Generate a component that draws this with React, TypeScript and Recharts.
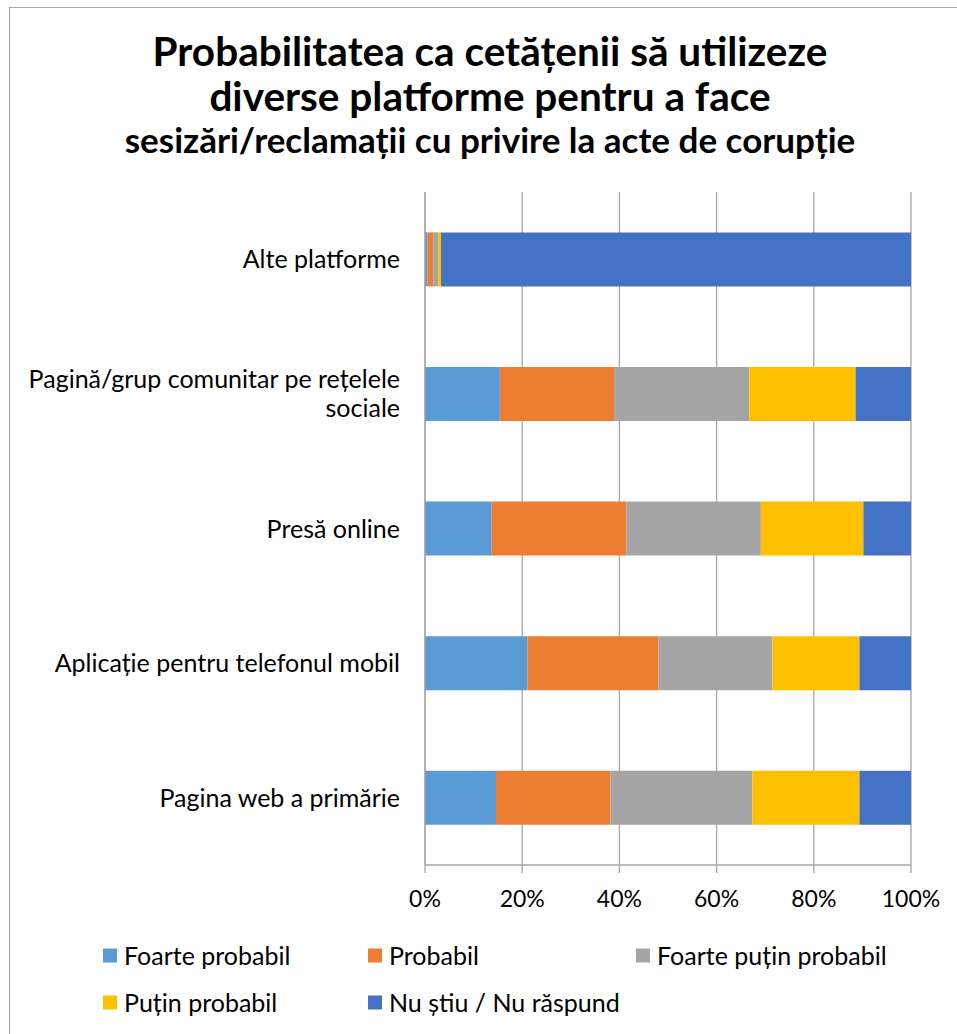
import React from "react";
import { BarChart, Bar, XAxis, YAxis, CartesianGrid } from "recharts";

// categories top to bottom (Excel draws them reversed)
const categories = [
  "Alte platforme",
  "Pagină/grup comunitar pe rețelele sociale",
  "Presă online",
  "Aplicație pentru telefonul mobil",
  "Pagina web a primărie",
];

// how the tick labels wrap in the original
const categoryLines: Record<string, string[]> = {
  "Pagină/grup comunitar pe rețelele sociale": ["Pagină/grup comunitar pe rețelele", "sociale"],
};

const foarteProbabil = [0.5, 15.4, 13.7, 21.1, 14.6];
const probabil = [1.2, 23.5, 27.7, 26.9, 23.5];
const foartePutinProbabil = [1.0, 27.8, 27.7, 23.5, 29.2];
const putinProbabil = [0.6, 21.9, 21.1, 17.9, 22.0];
const nuStiu = [96.7, 11.4, 9.8, 10.6, 10.6];

const seriesNames = [
  "Foarte probabil",
  "Probabil",
  "Foarte puțin probabil",
  "Puțin probabil",
  "Nu știu / Nu răspund",
];
const seriesColors = ["#5B9BD5", "#ED7D31", "#A5A5A5", "#FFC000", "#4472C4"];
const seriesValues = [foarteProbabil, probabil, foartePutinProbabil, putinProbabil, nuStiu];

const xTicks = [0, 0.2, 0.4, 0.6, 0.8, 1];
const boundaryTicks = [0, 1, 2, 3, 4, 5];

const titleLines = [
  "Probabilitatea ca cetățenii să utilizeze",
  "diverse platforme pentru a face",
  "sesizări/reclamații cu privire la acte de corupție",
];

const data = categories.map((name, i) => {
  const row: Record<string, number | string> = { name };
  seriesValues.forEach((vals, s) => {
    row["s" + s] = vals[i];
  });
  return row;
});

const FONT = "Lato, 'Open Sans', sans-serif";
const GRID = "#a6a6a6";

function CategoryTick(props: any) {
  const { x, y, payload } = props;
  const lines = categoryLines[payload.value] || [payload.value];
  const lh = 29;
  const first = y - ((lines.length - 1) * lh) / 2 + 9;
  return (
    <text x={x} y={first} textAnchor="end" fill="#000" fontSize={25} fontFamily={FONT}>
      {lines.map((l: string, i: number) => (
        <tspan key={i} x={x} dy={i === 0 ? 0 : lh}>
          {l}
        </tspan>
      ))}
    </text>
  );
}

// legend layout: two rows, three columns
const legendCols = [103, 368, 636];
const legendRows = [955, 1002];

export default function App() {
  return (
    <div
      style={{
        position: "absolute",
        left: 0,
        top: 0,
        width: 957,
        height: 1034,
        overflow: "hidden",
        background: "#fff",
        fontFamily: FONT,
      }}
    >
      <div
        style={{
          position: "absolute",
          left: 9,
          top: 7,
          width: 1000,
          height: 1100,
          border: "1.5px solid #a6a6a6",
        }}
      />
      {titleLines.map((t, i) => (
        <div
          key={i}
          style={{
            position: "absolute",
            left: 0,
            width: 980,
            textAlign: "center",
            top: [51, 96, 139][i],
            transform: "translateY(-50%)",
            fontSize: i < 2 ? 40.5 : 35,
            fontWeight: 700,
            color: "#000",
            whiteSpace: "nowrap",
            lineHeight: 1,
          }}
        >
          {t}
        </div>
      ))}
      <div style={{ position: "absolute", left: 0, top: 0 }}>
        <BarChart
          layout="vertical"
          width={957}
          height={1034}
          data={data}
          stackOffset="expand"
          barCategoryGap="30%"
          margin={{ top: 192, right: 46, bottom: 139, left: 10 }}
        >
          <CartesianGrid
            yAxisId="cat"
            horizontal={false}
            stroke={GRID}
            strokeWidth={1.3}
          />
          <XAxis
            type="number"
            domain={[0, 1]}
            ticks={xTicks}
            tickFormatter={(v: number) => `${Math.round(v * 100)}%`}
            axisLine={{ stroke: GRID, strokeWidth: 1.3 }}
            tickLine={{ stroke: GRID, strokeWidth: 1.3 }}
            tickSize={8}
            tickMargin={18}
            height={30}
            tick={{ fill: "#000", fontSize: 23, fontFamily: FONT }}
          />
          <YAxis
            yAxisId="bounds"
            type="number"
            domain={[0, 5]}
            ticks={boundaryTicks}
            allowDataOverflow
            width={0}
            tick={false}
            axisLine={false}
            tickLine={{ stroke: GRID, strokeWidth: 1.3 }}
            tickSize={9}
          />
          <YAxis
            yAxisId="cat"
            type="category"
            dataKey="name"
            width={415}
            axisLine={{ stroke: GRID, strokeWidth: 1.3 }}
            tickLine={false}
            tickSize={23}
            tickMargin={2}
            tick={<CategoryTick />}
            interval={0}
          />
          {seriesNames.map((n, s) => (
            <Bar
              key={n}
              yAxisId="cat"
              dataKey={"s" + s}
              name={n}
              stackId="a"
              fill={seriesColors[s]}
              isAnimationActive={false}
            />
          ))}
        </BarChart>
      </div>
      {seriesNames.map((n, s) => (
        <div
          key={n}
          style={{
            position: "absolute",
            left: legendCols[s % 3],
            top: legendRows[Math.floor(s / 3)],
            transform: "translateY(-50%)",
            display: "flex",
            alignItems: "center",
            fontSize: 25,
            color: "#000",
            whiteSpace: "nowrap",
            lineHeight: 1,
          }}
        >
          <span
            style={{
              display: "inline-block",
              width: 14,
              height: 14,
              background: seriesColors[s],
              marginRight: 7,
            }}
          />
          {n}
        </div>
      ))}
    </div>
  );
}
